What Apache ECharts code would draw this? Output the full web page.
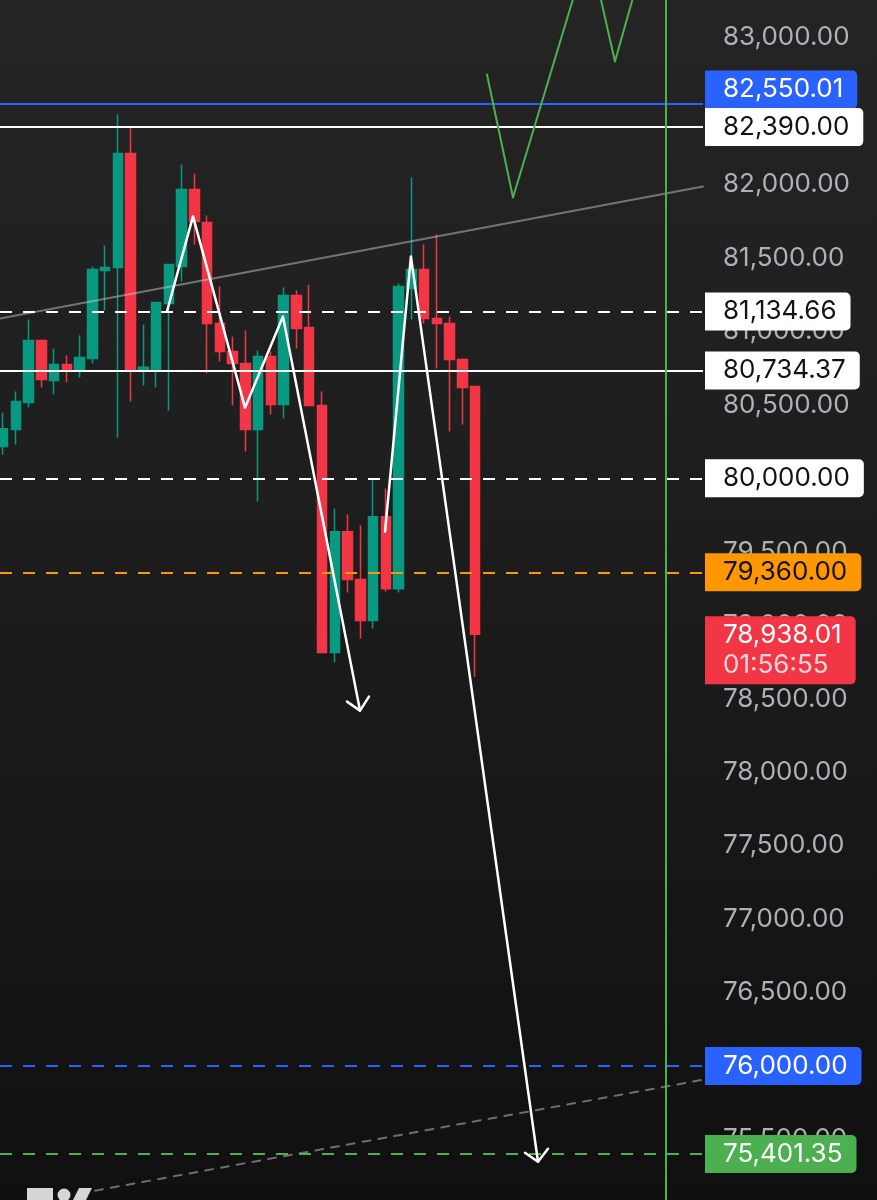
<!DOCTYPE html>
<html>
<head>
<meta charset="utf-8">
<script src="https://cdn.jsdelivr.net/npm/echarts@6/dist/echarts.min.js"></script>
<style>
html,body{margin:0;padding:0;width:877px;height:1200px;overflow:hidden;}
body{background:linear-gradient(180deg,#242424 0%,#1e1e1e 40%,#171717 70%,#101010 100%);position:relative;}
#c{position:absolute;left:0;top:-36px;width:877px;height:1249px;}
</style>
</head>
<body>
<div id="c"></div>
<script>
// ---- data ----
// candles: [open, close, low, high]
const candles = [
  [80216, 80338, 80161, 80447],
  [80332, 80522, 80230, 80590],
  [80515, 80937, 80481, 81080],
  [80937, 80672, 80618, 80945],
  [80665, 80774, 80570, 80883],
  [80774, 80733, 80652, 80835],
  [80733, 80822, 80686, 80972],
  [80815, 81421, 80781, 81441],
  [81414, 81434, 81142, 81584],
  [81434, 82210, 80277, 82476],
  [82210, 80740, 80522, 82387],
  [80740, 80755, 80631, 81046],
  [80740, 81196, 80618, 81196],
  [81189, 81455, 80461, 81460],
  [81441, 81965, 81339, 82136],
  [81965, 81748, 81591, 82074],
  [81741, 81053, 80713, 81788],
  [81053, 80863, 80795, 81305],
  [80863, 80781, 80495, 80965],
  [80781, 80332, 80182, 81006],
  [80332, 80829, 79842, 80869],
  [80829, 80502, 80434, 80863],
  [80502, 81244, 80407, 81298],
  [81244, 81019, 80883, 81278],
  [81026, 80495, 80495, 81318],
  [80495, 78814, 78807, 80590],
  [78814, 79637, 78746, 79794],
  [79637, 79311, 79222, 79753],
  [79311, 79032, 78909, 79678],
  [79032, 79739, 78977, 79991],
  [79739, 79249, 79229, 79930],
  [79249, 81305, 79222, 81325],
  [81291, 81421, 81080, 82047],
  [81421, 81087, 81053, 81591],
  [81087, 81053, 80747, 81659],
  [81053, 80808, 80318, 81101],
  [80808, 80618, 80366, 80815],
  [80624, 78938.01, 78650, 80624]
];

// price axis ticks
const yMin = 75000, yMax = 83500, yStep = 500;
// bar index range visible
const xMin = -0.235, xMax = 54.86;

// horizontal price levels
const levelPrices = [82550.01, 82390.00, 81134.66, 80734.37, 80000.00, 79360.00, 76000.00, 75401.35];
const lastPrice = 78938.01;
const countdown = '01:56:55';
// vertical marker (bar index)
const verticalBar = 51.96;

// drawings: [bar index, price]
const trendUpper = [[-0.235, 81087], [54.86, 81986]];
const trendLower = [[7.21, 75152], [54.86, 75907]];
const zigzagA = [[12.85, 81135], [14.89, 81782], [18.97, 80481], [21.94, 81101], [27.98, 78419]];
const arrowA = [[26.96, 78480], [27.98, 78419], [28.68, 78514]];
const zigzagB = [[29.94, 79637], [31.97, 81509], [41.93, 75349]];
const arrowB = [[40.91, 75410], [41.93, 75349], [42.71, 75437]];
const projection = [[37.93, 82748], [39.97, 81911], [45.92, 83619], [47.96, 82837], [49.29, 83245], [50.0, 83497]];

// ---- helpers ----
function fmt(v) {
  const s = v.toFixed(2);
  const parts = s.split('.');
  return parts[0].replace(/\B(?=(\d{3})+(?!\d))/g, ',') + '.' + parts[1];
}
const FONT = 'Inter, "Liberation Sans", Arial, sans-serif';
const FS = 26;
const UP = '#089981', DOWN = '#f23645';

const levelStyles = [
  {line: '#2962ff', type: 'solid', bg: '#2962ff', fg: '#ffffff', shiftPx: -14},
  {line: '#ffffff', type: 'solid', bg: '#ffffff', fg: '#131313', shiftPx: 0},
  {line: '#ffffff', type: 'dashed', bg: '#ffffff', fg: '#131313', shiftPx: 0},
  {line: '#ffffff', type: 'solid', bg: '#ffffff', fg: '#131313', shiftPx: 0},
  {line: '#ffffff', type: 'dashed', bg: '#ffffff', fg: '#131313', shiftPx: 0},
  {line: '#ff9800', type: 'dashed', bg: '#ff9800', fg: '#131313', shiftPx: 0},
  {line: '#2962ff', type: 'dashed', bg: '#2962ff', fg: '#ffffff', shiftPx: 0},
  {line: '#4caf50', type: 'dashed', bg: '#4caf50', fg: '#ffffff', shiftPx: 0}
];

const CHART_H = 1249;
const pxPerUnit = CHART_H / (yMax - yMin);

function labelBase(bg, fg) {
  return {
    show: true, position: 'end', distance: 2,
    backgroundColor: bg, color: fg,
    fontFamily: FONT, fontSize: FS, lineHeight: 30,
    padding: [4, 14, 4, 18], borderRadius: [0, 5, 5, 0]
  };
}

const markData = [];
levelPrices.forEach((p, i) => {
  const st = levelStyles[i];
  markData.push({
    yAxis: p,
    lineStyle: {color: st.line, width: 2, type: st.type === 'dashed' ? [12, 11] : 'solid'},
    label: {show: false}
  });
  const lp = p - st.shiftPx / pxPerUnit;
  const lab = labelBase(st.bg, st.fg);
  lab.formatter = () => fmt(p);
  markData.push({yAxis: lp, lineStyle: {color: 'rgba(0,0,0,0)', width: 0}, label: lab});
});
(function () {
  const lab = labelBase(DOWN, '#ffffff');
  lab.formatter = () => '{a|' + fmt(lastPrice) + '}\n{b|' + countdown + '}';
  lab.rich = {
    a: {color: '#ffffff', fontFamily: FONT, fontSize: FS, lineHeight: 30},
    b: {color: '#ffd6da', fontFamily: FONT, fontSize: FS, lineHeight: 30}
  };
  markData.push({yAxis: lastPrice - 16 / pxPerUnit, lineStyle: {color: 'rgba(0,0,0,0)', width: 0}, label: lab});
})();
markData.push({
  xAxis: verticalBar,
  lineStyle: {color: '#4caf50', width: 2, type: 'solid'},
  label: {show: false}
});

function lineSeries(data, color, width, dash, z) {
  return {
    type: 'line', data: data, showSymbol: false, symbol: 'none', silent: true,
    animation: false, z: z || 5,
    lineStyle: {color: color, width: width, type: dash || 'solid', cap: 'round', join: 'round'}
  };
}

const chart = echarts.init(document.getElementById('c'), null, {renderer: 'canvas'});
chart.setOption({
  backgroundColor: 'transparent',
  animation: false,
  grid: {left: 0, right: 174, top: 0, bottom: 0, containLabel: false},
  xAxis: {type: 'value', min: xMin, max: xMax, show: false},
  yAxis: {
    type: 'value', position: 'right', min: yMin, max: yMax, interval: yStep,
    axisLine: {show: false}, axisTick: {show: false}, splitLine: {show: false},
    axisLabel: {
      show: true, margin: 20, color: '#aeb1b8', fontFamily: FONT, fontSize: FS,
      showMinLabel: false, showMaxLabel: false,
      formatter: v => fmt(v)
    }
  },
  graphic: [
    {type: 'rect', shape: {x: 27, y: 1224, width: 26, height: 14}, style: {fill: '#d6d6d6'}, z: 10},
    {type: 'circle', shape: {cx: 64, cy: 1231, r: 6.5}, style: {fill: '#d6d6d6'}, z: 10},
    {type: 'polygon', shape: {points: [[79, 1224], [92, 1224], [85, 1238], [72, 1238]]}, style: {fill: '#d6d6d6'}, z: 10}
  ],
  series: [
    {
      type: 'candlestick',
      data: candles.map((c, i) => [i, c[0], c[1], c[2], c[3]]),
      encode: {x: 0, y: [1, 2, 3, 4]},
      barWidth: 10,
      z: 2,
      itemStyle: {color: UP, color0: DOWN, borderColor: UP, borderColor0: DOWN, borderWidth: 1.5},
      markLine: {symbol: ['none', 'none'], silent: true, animation: false, data: markData, z: 4}
    },
    lineSeries(trendUpper, 'rgba(200,200,200,0.5)', 2, 'solid', 3),
    lineSeries(trendLower, 'rgba(150,150,150,0.7)', 2, [8, 8], 3),
    lineSeries(zigzagA, '#ffffff', 2.5),
    lineSeries(arrowA, '#ffffff', 2.5),
    lineSeries(zigzagB, '#ffffff', 2.5),
    lineSeries(arrowB, '#ffffff', 2.5),
    lineSeries(projection, '#4caf50', 2)
  ]
});
</script>
</body>
</html>
